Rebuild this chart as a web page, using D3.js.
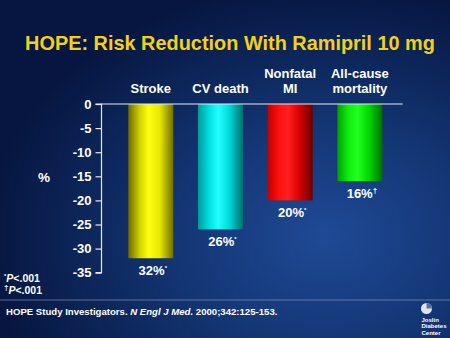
<!DOCTYPE html>
<html><head><meta charset="utf-8">
<script src="https://cdn.jsdelivr.net/npm/d3@7"></script>
<style>
html,body{margin:0;padding:0;background:#0a1a45;}
svg{display:block;font-family:"Liberation Sans",Arial,sans-serif;font-weight:bold;}
</style></head>
<body>
<svg id="chart" width="450" height="338"></svg>
<script>
// Data
const categories = [["Stroke"], ["CV death"], ["Nonfatal", "MI"], ["All-cause", "mortality"]];
const values = [-32, -26, -20, -16];
const valueLabels = ["32%", "26%", "20%", "16%"];
const valueMarks = ["*", "*", "*", "\u2020"];
const tickValues = [0, -5, -10, -15, -20, -25, -30, -35];
const barColors = [
  ["#6a6a00", "#d0d000", "#ffff10", "#e8e800", "#6e6e00"],
  ["#009a9a", "#00e0e0", "#20ffff", "#00d8d8", "#006e6e"],
  ["#c00000", "#ff1010", "#ff2020", "#d80000", "#6a0000"],
  ["#00a000", "#10f010", "#20ff20", "#00d800", "#007000"]
];

const svg = d3.select("#chart");
const defs = svg.append("defs");

// background
const bg = defs.append("radialGradient").attr("id", "bg")
  .attr("cx", 0.72).attr("cy", 0.7).attr("r", 0.75);
bg.append("stop").attr("offset", "0%").attr("stop-color", "#1f4a96");
bg.append("stop").attr("offset", "45%").attr("stop-color", "#133573");
bg.append("stop").attr("offset", "100%").attr("stop-color", "#061640");
svg.append("rect").attr("width", 450).attr("height", 338).attr("fill", "url(#bg)");

// bar gradients
barColors.forEach((c, i) => {
  const g = defs.append("linearGradient").attr("id", "bar" + i)
    .attr("x1", "0%").attr("x2", "100%").attr("y1", "0%").attr("y2", "0%");
  const offs = [0, 0.25, 0.45, 0.7, 1];
  c.forEach((col, j) => g.append("stop").attr("offset", offs[j]).attr("stop-color", col));
});

// title
svg.append("text").attr("x", 230).attr("y", 50).attr("text-anchor", "middle")
  .attr("fill", "#f2d01c").attr("font-size", 19.9)
  .text("HOPE: Risk Reduction With Ramipril 10 mg");

// scales
const x = d3.scaleBand().domain(d3.range(categories.length))
  .range([115.95, 394.75]).paddingInner(0.354).paddingOuter(0.177);
const y = d3.scaleLinear().domain([0, -35]).range([104, 272.7]);

// bars
svg.append("g").selectAll("rect").data(values).join("rect")
  .attr("x", (d, i) => x(i)).attr("width", x.bandwidth())
  .attr("y", y(0)).attr("height", d => y(d) - y(0))
  .attr("fill", (d, i) => `url(#bar${i})`);

// zero line
svg.append("line").attr("x1", 101.5).attr("x2", 402.7)
  .attr("y1", y(0)).attr("y2", y(0))
  .attr("stroke", "#e8e8f0").attr("stroke-width", 1.2);

// y axis
const yAxis = svg.append("g").attr("transform", "translate(101.5,0)")
  .call(d3.axisLeft(y).tickValues(tickValues).tickSize(6).tickPadding(4).tickFormat(d => String(d)));
yAxis.select(".domain").attr("stroke", "#e8e8f0").attr("stroke-width", 1.2)
  .attr("d", `M-6,${y(0)}H0V${y(-35)}H-6`);
yAxis.selectAll(".tick line").attr("stroke", "#e8e8f0").attr("stroke-width", 1.2);
yAxis.selectAll(".tick text").attr("fill", "#ffffff").attr("font-size", 13)
  .attr("font-family", "Liberation Sans, Arial, sans-serif").attr("font-weight", "bold");

// % label
svg.append("text").attr("x", 44).attr("y", 182).attr("text-anchor", "middle")
  .attr("fill", "#fff").attr("font-size", 13.5).text("%");

// category labels
categories.forEach((lines, i) => {
  const t = svg.append("text").attr("text-anchor", "middle").attr("fill", "#fff")
    .attr("font-size", 13).attr("x", x(i) + x.bandwidth() / 2);
  lines.forEach((l, j) => {
    t.append("tspan").attr("x", x(i) + x.bandwidth() / 2)
      .attr("y", 93 - (lines.length - 1 - j) * 15).text(l);
  });
});

// value labels
values.forEach((v, i) => {
  const t = svg.append("text").attr("text-anchor", "middle").attr("fill", "#fff")
    .attr("font-size", 13).attr("x", x(i) + x.bandwidth() / 2 + 2)
    .attr("y", y(v) + 17);
  t.append("tspan").text(valueLabels[i]);
  t.append("tspan").attr("font-size", valueMarks[i] === "*" ? 6 : 8)
    .attr("dy", -5).text(valueMarks[i]);
});

// footnotes
const fn = [["*", "P", "<.001", 281.5], ["\u2020", "P", "<.001", 293.5]];
fn.forEach(f => {
  const t = svg.append("text").attr("x", 4).attr("y", f[3]).attr("fill", "#fff").attr("font-size", 10.5);
  t.append("tspan").attr("font-size", f[0] === "*" ? 6 : 8).attr("dy", -4).text(f[0]);
  t.append("tspan").attr("font-style", "italic").attr("dy", 4).text(f[1]);
  t.append("tspan").text(f[2]);
});

// separator
svg.append("line").attr("x1", 0).attr("x2", 450).attr("y1", 300).attr("y2", 300)
  .attr("stroke", "#8a9ac0").attr("stroke-width", 0.8).attr("opacity", 0.8);

// citation
const cit = svg.append("text").attr("x", 6).attr("y", 315).attr("fill", "#fff").attr("font-size", 9.6);
cit.append("tspan").text("HOPE Study Investigators. ");
cit.append("tspan").attr("font-style", "italic").text("N Engl J Med.");
cit.append("tspan").text(" 2000;342:125-153.");

// logo
svg.append("circle").attr("cx", 426.5).attr("cy", 308.5).attr("r", 5.5).attr("fill", "#dfe4ee");
svg.append("path").attr("d", "M426.5,303 A5.5,5.5 0 0 1 432,308.5 L426.5,308.5 Z").attr("fill", "#5a6f9a");
["Joslin", "Diabetes", "Center"].forEach((w, i) => {
  svg.append("text").attr("x", 421.5).attr("y", 321.5 + i * 6.5).attr("fill", "#fff")
    .attr("font-size", 6).text(w);
});
</script>
</body></html>
